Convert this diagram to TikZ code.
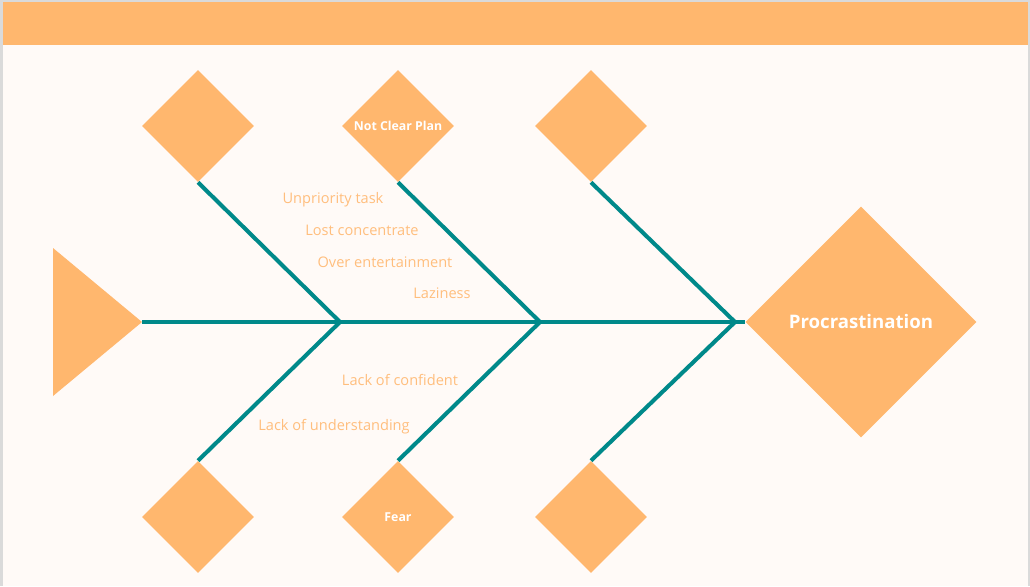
\documentclass[tikz,border=0pt]{standalone}
\usepackage{fontspec}
\setmainfont{Open Sans}
\usepackage{tikz}
\usetikzlibrary{shapes.geometric,positioning,calc}
\definecolor{fishorange}{RGB}{255,183,110}
\definecolor{causetext}{RGB}{255,190,125}
\definecolor{boneteal}{RGB}{0,137,138}
\definecolor{pagebg}{RGB}{255,250,247}
\definecolor{framegray}{RGB}{218,218,218}

\begin{document}
\begin{tikzpicture}[x=0.02cm,y=-0.02cm,
    box/.style={diamond, fill=fishorange, inner sep=0pt, aspect=1, minimum size=2.24cm,
        text=white, font=\bfseries\fontsize{7}{8}\selectfont},
    bone/.style={boneteal, line width=2.3pt},
    cause/.style={text=causetext, font=\fontsize{8.3}{10}\selectfont, inner sep=0pt, yshift=-1.2pt}]
    \useasboundingbox (0,0) rectangle (1030,586);

    % Page
    \fill[framegray] (0,0) rectangle (1030,586);
    \fill[pagebg] (3,2) rectangle (1028,586);
    \fill[fishorange] (3,2) rectangle (1028,45);

    % Head and tail
    \node[box, minimum size=4.62cm, font=\bfseries\fontsize{10.6}{12}\selectfont] (head) at (861,322) {Procrastination};
    \coordinate (tail) at (142,322);
    \fill[fishorange] (53,248) -- (tail) -- (53,396) -- cycle;

    % Joints on the spine
    \coordinate (j1) at (340,322);
    \coordinate (j2) at (540,322);
    \coordinate (j3) at (735,322);

    % Category boxes
    \node[box] (t1) at (198,126) {};
    \node[box] (t2) at (398,126) {Not Clear Plan};
    \node[box] (t3) at (591,126) {};
    \node[box] (b1) at (198,517) {};
    \node[box] (b2) at (398,517) {Fear};
    \node[box] (b3) at (591,517) {};

    % Spine
    \draw[bone] (tail) -- (head.west);

    % Bones
    \foreach \n in {1,2,3} {
        \draw[bone] (j\n) -- (t\n.south);
        \draw[bone] (j\n) -- (b\n.north);
    }

    % Causes
    \node[cause] (c1) at (333,198) {Unpriority task};
    \node[cause] (c2) at (362,228) {Lost concentrate};
    \node[cause] (c3) at (385,260) {Over entertainment};
    \node[cause] (c4) at (442,291) {Laziness};
    \node[cause] (c5) at (400,378) {Lack of confident};
    \node[cause] (c6) at (334,425) {Lack of understanding};
\end{tikzpicture}
\end{document}
